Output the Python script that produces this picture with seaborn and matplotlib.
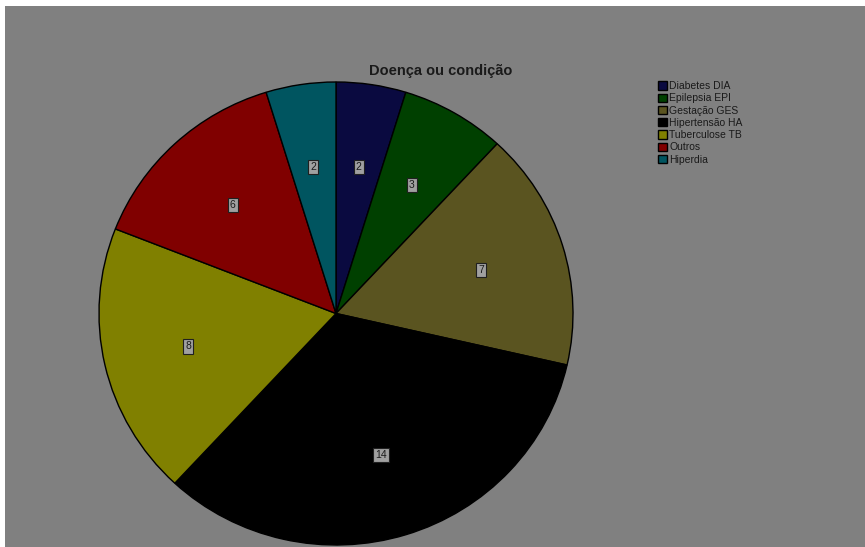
import matplotlib
matplotlib.use("Agg")
import matplotlib.pyplot as plt
from matplotlib.patches import Rectangle
import seaborn as sns

categories = ["Diabetes DIA", "Epilepsia EPI", "Gestação GES", "Hipertensão HA",
              "Tuberculose TB", "Outros", "Hiperdia"]
values = [2, 3, 7, 14, 8, 6, 2]
colors = ["#0a0a40", "#004000", "#5a5420", "#000000", "#808000", "#800000", "#005560"]
title = "Doença ou condição"

sns.set_style("white")
plt.rcParams['font.family'] = ['Liberation Sans', 'DejaVu Sans']
palette = sns.color_palette(colors)

W, H = 865, 547
fig = plt.figure(figsize=(W / 100, H / 100), dpi=100, facecolor="white")
fig.patches.append(Rectangle((5 / W, 0), 1 - 5 / W, 1 - 6 / H, transform=fig.transFigure,
                             facecolor="#808080", edgecolor="none", zorder=-10))

# pie bounding box in pixels: x 99..573, y 82..545 (from top)
x0, x1, yt, yb = 99, 573, 82, 545
ax = fig.add_axes([x0 / W, 1 - yb / H, (x1 - x0) / W, (yb - yt) / H])
ax.set_facecolor("none")
wedges, texts = ax.pie(values, colors=palette, startangle=90, counterclock=False,
                       labels=[str(v) for v in values], labeldistance=0.64,
                       wedgeprops=dict(edgecolor="black", linewidth=1.0),
                       radius=1.0)
for t in texts:
    t.set_ha("center")
    t.set_va("center")
    t.set_fontsize(7.5)
    t.set_color("#1a1a1a")
    t.set_bbox(dict(boxstyle="square,pad=0.2", facecolor="#a0a0a0", edgecolor="#202020", linewidth=0.8))
ax.set_xlim(-1, 1)
ax.set_ylim(-1, 1)
ax.set_aspect("auto")
ax.axis("off")

fig.text(441 / W, 1 - 71 / H, title, ha="center", va="center", fontsize=10.5,
         fontweight="bold", color="#1a1a1a")

leg = fig.legend(wedges, categories, loc="upper left", bbox_to_anchor=(658 / W, 1 - 81 / H),
                 frameon=False, fontsize=7.5, handlelength=0.85, handleheight=0.85,
                 handletextpad=0.25, labelspacing=0.22, borderpad=0, borderaxespad=0)
for txt in leg.get_texts():
    txt.set_color("#1a1a1a")

fig.savefig("out.png", dpi=100, facecolor="white")
